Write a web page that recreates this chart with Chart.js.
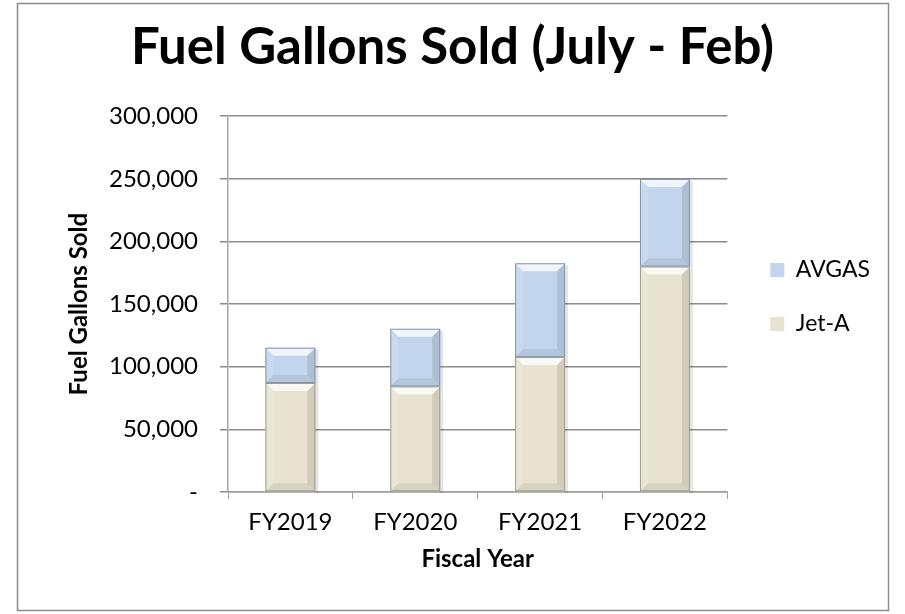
<!DOCTYPE html>
<html>
<head>
<meta charset="utf-8">
<script src="https://cdn.jsdelivr.net/npm/chart.js@4/dist/chart.umd.min.js"></script>
<style>
  html, body { margin: 0; padding: 0; background: #ffffff; }
  #wrap { width: 905px; height: 614px; }
</style>
</head>
<body>
<div id="wrap"><canvas id="fuelChart" width="905" height="614"></canvas></div>
<script>
// Chart data
const fiscalYears = ['FY2019', 'FY2020', 'FY2021', 'FY2022'];
const jetAGallons = [87000, 84300, 107700, 180000];
const avgasGallons = [28200, 46000, 74900, 69900];
const yAxisMax = 300000;
const yAxisStep = 50000;

const FONT = 'Lato, "Open Sans", sans-serif';

// Grey frame round the whole chart, white background
const frame = {
    id: 'frame',
    beforeDraw(chart) {
        const ctx = chart.ctx;
        ctx.save();
        ctx.fillStyle = '#ffffff';
        ctx.fillRect(0, 0, chart.width, chart.height);
        ctx.strokeStyle = '#8c8c8c';
        ctx.lineWidth = 1.5;
        ctx.strokeRect(17.5, 3.5, 871, 607);
        ctx.restore();
    }
};

// Office-style bevel on each bar segment
const bevel = {
    id: 'bevel',
    afterDatasetsDraw(chart) {
        const ctx = chart.ctx;
        const poly = (pts, fill) => {
            ctx.beginPath();
            ctx.moveTo(pts[0][0], pts[0][1]);
            pts.slice(1).forEach(p => ctx.lineTo(p[0], p[1]));
            ctx.closePath();
            ctx.fillStyle = fill;
            ctx.fill();
        };
        chart.data.datasets.forEach((ds, i) => {
            chart.getDatasetMeta(i).data.forEach(bar => {
                const { x, y, base, width } = bar.getProps(['x', 'y', 'base', 'width'], true);
                const l = x - width / 2, r = x + width / 2;
                const t = Math.min(y, base), b = Math.max(y, base);
                const d = Math.min(8, (b - t) / 2);
                ctx.save();
                // soft shadow on the right
                ctx.fillStyle = 'rgba(0,0,0,0.10)';
                ctx.fillRect(r, t + 2, 3, b - t);
                poly([[l, t], [r, t], [r - d, t + d], [l + d, t + d]], 'rgba(255,255,255,0.75)');
                poly([[l, t], [l + d, t + d], [l + d, b - d], [l, b]], 'rgba(255,255,255,0.12)');
                poly([[r, t], [r, b], [r - d, b - d], [r - d, t + d]], 'rgba(0,0,0,0.10)');
                poly([[l, b], [r, b], [r - d, b - d], [l + d, b - d]], 'rgba(0,0,0,0.07)');
                ctx.strokeStyle = ds.borderColor;
                ctx.lineWidth = 1;
                ctx.strokeRect(l + 0.5, t + 0.5, width - 1, b - t - 1);
                ctx.restore();
            });
        });
    }
};

const ctx = document.getElementById('fuelChart');

new Chart(ctx, {
    type: 'bar',
    data: {
        labels: fiscalYears,
        datasets: [
            {
                label: 'Jet-A',
                data: jetAGallons,
                backgroundColor: '#e8e3d0',
                borderColor: '#a19d89',
                borderWidth: 0,
                stack: 'fuel'
            },
            {
                label: 'AVGAS',
                data: avgasGallons,
                backgroundColor: '#c2d5ed',
                borderColor: '#8195b0',
                borderWidth: 0,
                stack: 'fuel'
            }
        ]
    },
    options: {
        responsive: false,
        animation: false,
        categoryPercentage: 1,
        barPercentage: 0.4,
        layout: { padding: { left: 25, right: 25, top: 0, bottom: 20 } },
        plugins: {
            title: {
                display: true,
                text: 'Fuel Gallons Sold (July - Feb)',
                color: '#000000',
                font: { family: FONT, size: 51, weight: 'bold' },
                padding: { top: 17, bottom: 38 }
            },
            legend: {
                position: 'right',
                reverse: true,
                labels: {
                    color: '#000000',
                    font: { family: FONT, size: 23 },
                    boxWidth: 14,
                    boxHeight: 14,
                    padding: 31
                }
            },
            tooltip: { enabled: false }
        },
        scales: {
            x: {
                stacked: true,
                grid: {
                    drawOnChartArea: false,
                    drawTicks: true,
                    tickLength: 7,
                    tickColor: '#a0a0a0'
                },
                border: { display: true, color: '#a0a0a0', width: 1.5 },
                ticks: {
                    color: '#000000',
                    font: { family: FONT, size: 24 },
                    padding: 9
                },
                title: {
                    display: true,
                    text: 'Fiscal Year',
                    color: '#000000',
                    font: { family: FONT, size: 24, weight: 'bold' },
                    padding: { top: 0, bottom: 20 }
                },
                afterFit(scale) { scale.height = 102; }
            },
            y: {
                stacked: true,
                min: 0,
                max: yAxisMax,
                grid: {
                    color: '#8c8c8c',
                    lineWidth: 1.5,
                    tickLength: 8,
                    tickColor: '#8c8c8c'
                },
                border: { display: true, color: '#a6a6a6', width: 1.5 },
                ticks: {
                    stepSize: yAxisStep,
                    color: '#000000',
                    font: { family: FONT, size: 24 },
                    padding: 22,
                    callback: v => v === 0 ? '-' : v.toLocaleString('en-US')
                },
                title: {
                    display: true,
                    text: 'Fuel Gallons Sold',
                    color: '#000000',
                    font: { family: FONT, size: 24, weight: 'bold' },
                    padding: { top: 40, bottom: 0 }
                },
                afterFit(scale) { scale.width = 203; }
            },
            gap: {
                position: 'right',
                display: true,
                grid: { display: false, drawTicks: false },
                border: { display: false },
                ticks: { display: false },
                afterFit(scale) { scale.width = 12; }
            }
        }
    },
    plugins: [frame, bevel]
});
</script>
</body>
</html>
